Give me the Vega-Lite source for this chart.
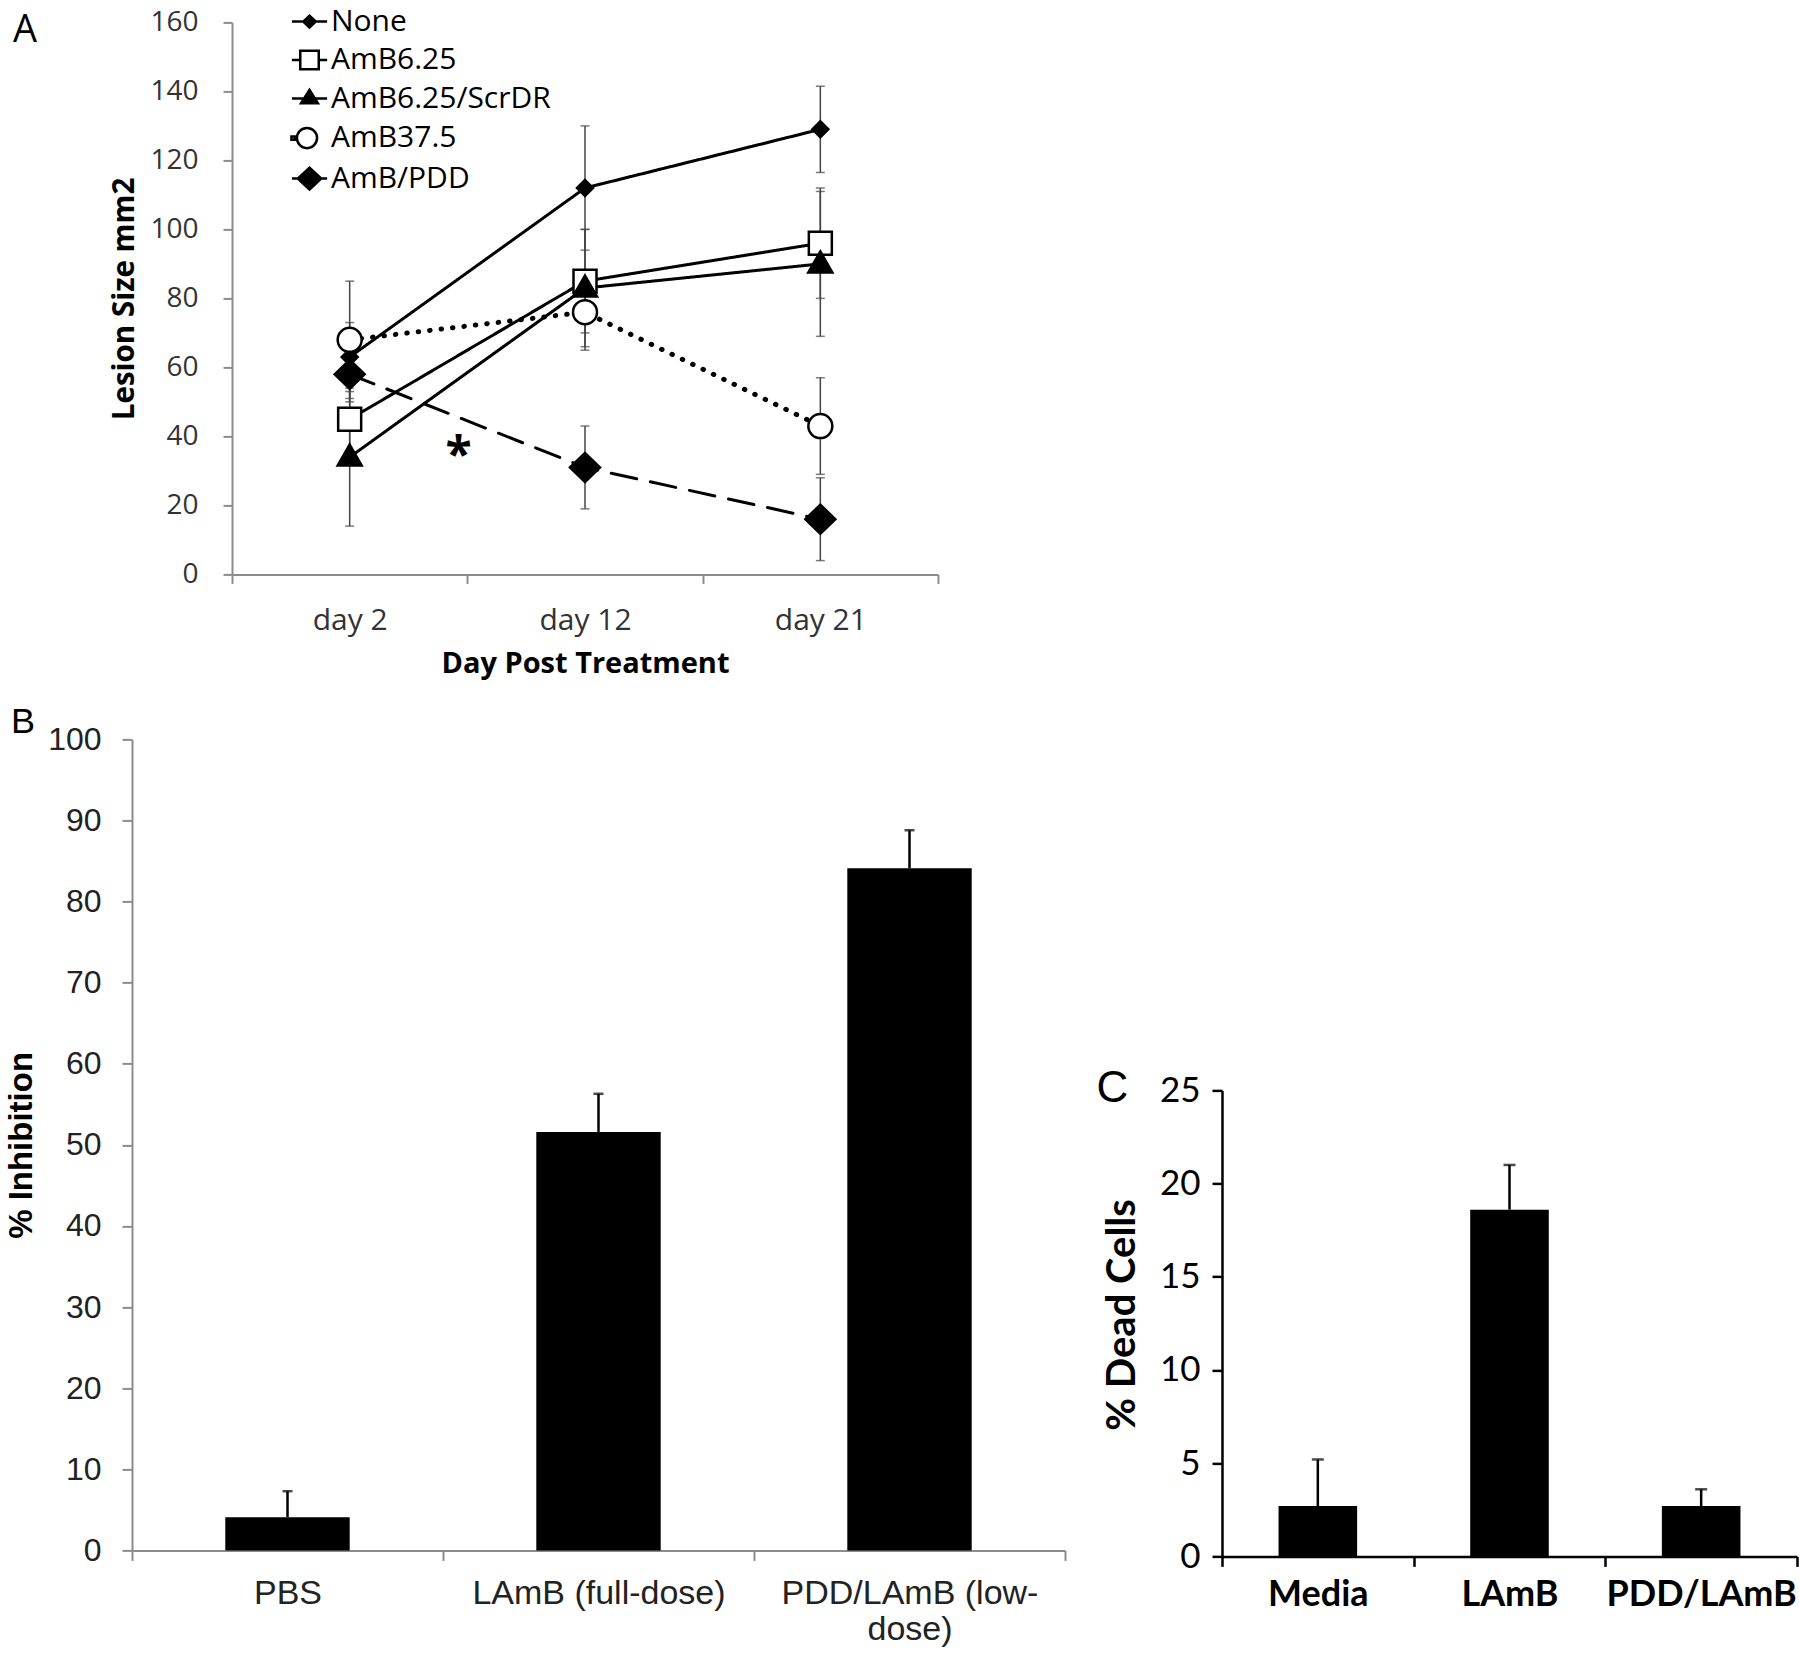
{
  "$schema": "https://vega.github.io/schema/vega-lite/v6.json",
  "background": "white",
  "padding": {"left": 5, "top": 6.4, "right": 4, "bottom": 4},
  "spacing": 30,
  "config": {"view": {"stroke": null}, "axis": {"grid": false}},
  "hconcat": [
    {
      "spacing": 25,
      "vconcat": [
        {
          "width": 806,
          "height": 552,
          "title": {"text": "A", "anchor": "start", "frame": "group", "orient": "top", "offset": -73, "baseline": "alphabetic", "dx": -119, "fontSize": 38, "font": "Open Sans", "fontWeight": "normal", "color": "black"},
          "data": {
            "values": [
              {"day": "day 2", "series": "None", "mean": 63, "err": 10},
              {"day": "day 12", "series": "None", "mean": 112, "err": 18},
              {"day": "day 21", "series": "None", "mean": 129, "err": 12.5},
              {"day": "day 2", "series": "AmB6.25", "mean": 45, "err": 10},
              {"day": "day 12", "series": "AmB6.25", "mean": 85, "err": 15},
              {"day": "day 21", "series": "AmB6.25", "mean": 96, "err": 16},
              {"day": "day 2", "series": "AmB6.25/ScrDR", "mean": 34, "err": 20},
              {"day": "day 12", "series": "AmB6.25/ScrDR", "mean": 83, "err": 17},
              {"day": "day 21", "series": "AmB6.25/ScrDR", "mean": 90, "err": 21},
              {"day": "day 2", "series": "AmB37.5", "mean": 68, "err": 17},
              {"day": "day 12", "series": "AmB37.5", "mean": 76, "err": 11},
              {"day": "day 21", "series": "AmB37.5", "mean": 43, "err": 14},
              {"day": "day 2", "series": "AmB/PDD", "mean": 58, "err": 8},
              {"day": "day 12", "series": "AmB/PDD", "mean": 31, "err": 12},
              {"day": "day 21", "series": "AmB/PDD", "mean": 16, "err": 12}
            ]
          },
          "encoding": {
            "x": {
              "field": "day", "type": "nominal", "sort": ["day 2", "day 12", "day 21"],
              "scale": {"type": "band", "paddingInner": 0, "paddingOuter": 0, "range": [100, 806]},
              "axis": {"title": "Day Post Treatment", "tickBand": "extent", "labelAngle": 0, "domainColor": "#8c8c8c", "domainWidth": 2, "tickColor": "#8c8c8c", "tickWidth": 2, "tickSize": 9, "labelFont": "Open Sans", "labelFontSize": 30, "labelColor": "#333333", "labelPadding": 22.5, "titleFont": "Open Sans", "titleFontSize": 29, "titleFontWeight": "bold", "titleColor": "black", "titlePadding": 14}
            }
          },
          "resolve": {"scale": {"shape": "independent", "fill": "independent", "stroke": "independent"}},
          "layer": [
            {
              "mark": {"type": "errorbar", "ticks": {"size": 9, "thickness": 1.5, "color": "#444444"}, "color": "#444444", "thickness": 1.5},
              "encoding": {
                "y": {"field": "mean", "type": "quantitative", "scale": {"domain": [0, 160], "nice": false},
                  "axis": {"title": "Lesion Size mm2", "format": "d", "values": [0, 20, 40, 60, 80, 100, 120, 140, 160], "offset": -100, "domainColor": "#8c8c8c", "domainWidth": 2, "tickColor": "#8c8c8c", "tickWidth": 2, "tickSize": 9, "labelFont": "Open Sans", "labelFontSize": 28, "labelColor": "#333333", "labelPadding": 25, "titleFont": "Open Sans", "titleFontSize": 29.5, "titleFontWeight": "bold", "titleColor": "black", "titlePadding": 10}},
                "yError": {"field": "err"}
              }
            },
            {
              "transform": [{"filter": "datum.series != 'AmB37.5'"}],
              "mark": {"type": "line", "color": "black", "strokeWidth": 3, "strokeCap": "round", "strokeJoin": "round"},
              "encoding": {
                "y": {"field": "mean", "type": "quantitative"},
                "strokeDash": {"field": "series", "type": "nominal", "scale": {"domain": ["None", "AmB6.25", "AmB6.25/ScrDR", "AmB37.5", "AmB/PDD"], "range": [[1, 0], [1, 0], [1, 0], [0.5, 11], [26, 14]]}, "legend": null}
              }
            },
            {
              "transform": [{"filter": "datum.series == 'AmB37.5'"}],
              "mark": {"type": "line", "color": "black", "strokeWidth": 5, "strokeCap": "round", "strokeJoin": "round"},
              "encoding": {
                "y": {"field": "mean", "type": "quantitative"},
                "strokeDash": {"field": "series", "type": "nominal", "legend": null}
              }
            },
            {
              "mark": {"type": "point", "size": 100, "stroke": "black", "strokeWidth": 2.5, "opacity": 1},
              "encoding": {
                "y": {"field": "mean", "type": "quantitative"},
                "shape": {"field": "series", "type": "nominal", "legend": null, "scale": {"domain": ["None", "AmB6.25", "AmB6.25/ScrDR", "AmB37.5", "AmB/PDD"], "range": ["M-1.6,0L0,-1.6L1.6,0L0,1.6Z", "M-2.3,-2.3L2.3,-2.3L2.3,2.3L-2.3,2.3Z", "M0,-2.5L2.4,1.7L-2.4,1.7Z", "M-2.4,0A2.4,2.4,0,1,0,2.4,0A2.4,2.4,0,1,0,-2.4,0Z", "M-3,0L0,-2.9L3,0L0,2.9Z"]}},
                "fill": {"field": "series", "type": "nominal", "legend": null, "scale": {"domain": ["None", "AmB6.25", "AmB6.25/ScrDR", "AmB37.5", "AmB/PDD"], "range": ["black", "white", "black", "white", "black"]}}
              }
            },
            {
              "mark": {"type": "point", "size": 0, "strokeWidth": 2.5},
              "encoding": {
                "y": {"field": "mean", "type": "quantitative"},
                "shape": {"field": "series", "type": "nominal",
                  "scale": {"domain": ["None", "AmB6.25", "AmB6.25/ScrDR", "AmB37.5", "AmB/PDD"], "range": ["M-2.1,0L2.1,0M-0.75,0L0,-0.7L0.75,0L0,0.7Z", "M-2.1,0L-1.1,0M1.1,0L2.1,0M-1.1,-1.1L1.1,-1.1L1.1,1.1L-1.1,1.1Z", "M-2.1,0L2.1,0M-1,0.55L0,-1.05L1,0.55Z", "M-2.15,-0.2L-1.75,-0.2L-1.75,0.2L-2.15,0.2ZM-1.5,0A1.2,1.2,0,1,0,0.9,0A1.2,1.2,0,1,0,-1.5,0Z", "M-2.1,0L2.1,0M-1.4,0L0,-1.3L1.4,0L0,1.3Z"]},
                  "legend": {"title": null, "orient": "none", "legendX": 162.5, "legendY": -15.8, "symbolSize": 282, "symbolStrokeWidth": 2.5, "symbolOpacity": 1, "labelFont": "Open Sans", "labelFontSize": 30, "labelColor": "black", "labelOffset": 6.5, "rowPadding": 8.5, "padding": 0, "labelLimit": 400}},
                "fill": {"field": "series", "type": "nominal",
                  "scale": {"domain": ["None", "AmB6.25", "AmB6.25/ScrDR", "AmB37.5", "AmB/PDD"], "range": ["black", "white", "black", "white", "black"]},
                  "legend": {"title": null, "orient": "none", "legendX": 162.5, "legendY": -15.8, "symbolSize": 282, "symbolStrokeWidth": 2.5, "symbolOpacity": 1, "labelFont": "Open Sans", "labelFontSize": 30, "labelColor": "black", "labelOffset": 6.5, "rowPadding": 8.5, "padding": 0, "labelLimit": 400}},
                "stroke": {"field": "series", "type": "nominal",
                  "scale": {"domain": ["None", "AmB6.25", "AmB6.25/ScrDR", "AmB37.5", "AmB/PDD"], "range": ["black", "black", "black", "black", "black"]},
                  "legend": {"title": null, "orient": "none", "legendX": 162.5, "legendY": -15.8, "symbolSize": 282, "symbolStrokeWidth": 2.5, "symbolOpacity": 1, "labelFont": "Open Sans", "labelFontSize": 30, "labelColor": "black", "labelOffset": 6.5, "rowPadding": 8.5, "padding": 0, "labelLimit": 400}}
              }
            },
            {
              "data": {"values": [{"day": "day 2", "yv": 30, "label": "*"}]},
              "mark": {"type": "text", "dx": 109, "font": "Open Sans", "fontSize": 48, "fontWeight": "bold", "baseline": "alphabetic", "align": "center", "color": "black"},
              "encoding": {"y": {"field": "yv", "type": "quantitative"}, "text": {"field": "label"}}
            }
          ]
        },
        {
          "width": 933,
          "height": 811,
          "title": {"text": "B", "anchor": "start", "frame": "group", "orient": "top", "offset": -46, "baseline": "alphabetic", "dx": -121, "fontSize": 36, "font": "Liberation Sans", "fontWeight": "normal", "color": "black"},
          "data": {
            "values": [
              {"group": "PBS", "value": 4.1, "hi": 7.3},
              {"group": "LAmB (full-dose)", "value": 51.6, "hi": 56.3},
              {"group": "PDD/LAmB (low-dose)", "value": 84.1, "hi": 88.8}
            ]
          },
          "encoding": {
            "x": {
              "field": "group", "type": "nominal", "sort": null,
              "scale": {"type": "band", "paddingInner": 0, "paddingOuter": 0},
              "axis": {"title": null, "tickBand": "extent", "labelAngle": 0, "labelExpr": "datum.label == 'PDD/LAmB (low-dose)' ? ['PDD/LAmB (low-', 'dose)'] : datum.label", "labelLineHeight": 36, "domainColor": "#8c8c8c", "domainWidth": 2, "tickColor": "#8c8c8c", "tickWidth": 2, "tickSize": 10, "labelFont": "Liberation Sans", "labelFontSize": 34, "labelColor": "#222222", "labelPadding": 16, "labelLimit": 400}
            }
          },
          "layer": [
            {
              "mark": {"type": "bar", "color": "black", "width": {"band": 0.4}},
              "encoding": {
                "y": {"field": "value", "type": "quantitative", "scale": {"domain": [0, 100], "nice": false},
                  "axis": {"title": "% Inhibition", "format": "d", "values": [0, 10, 20, 30, 40, 50, 60, 70, 80, 90, 100], "domainColor": "#8c8c8c", "domainWidth": 2, "tickColor": "#8c8c8c", "tickWidth": 2, "tickSize": 10, "labelFont": "Liberation Sans", "labelFontSize": 32, "labelColor": "#222222", "labelPadding": 21, "titleFont": "Liberation Sans", "titleFontSize": 33, "titleFontWeight": "bold", "titleColor": "black", "titlePadding": 9}}
              }
            },
            {
              "mark": {"type": "rule", "color": "black", "strokeWidth": 2.5},
              "encoding": {"y": {"field": "value", "type": "quantitative"}, "y2": {"field": "hi"}}
            },
            {
              "mark": {"type": "tick", "color": "black", "thickness": 2.5, "size": 10},
              "encoding": {"y": {"field": "hi", "type": "quantitative"}}
            }
          ]
        }
      ]
    },
    {
      "width": 575,
      "height": 1534,
      "title": {"text": "C", "anchor": "start", "frame": "group", "orient": "top", "offset": 0, "baseline": "alphabetic", "dx": -125.5, "dy": 1123.5, "fontSize": 44, "font": "Liberation Sans", "fontWeight": "normal", "color": "black"},
      "data": {
        "values": [
          {"group": "Media", "value": 2.7, "hi": 5.2},
          {"group": "LAmB", "value": 18.6, "hi": 21.0},
          {"group": "PDD/LAmB", "value": 2.7, "hi": 3.6}
        ]
      },
      "encoding": {
        "x": {
          "field": "group", "type": "nominal", "sort": null,
          "scale": {"type": "band", "paddingInner": 0, "paddingOuter": 0},
          "axis": {"title": null, "tickBand": "extent", "labelAngle": 0, "domainColor": "black", "domainWidth": 2.5, "tickColor": "black", "tickWidth": 2.5, "tickSize": 10, "labelFont": "Lato", "labelFontSize": 36, "labelFontWeight": "bold", "labelColor": "black", "labelPadding": 11, "labelLimit": 400}
        }
      },
      "layer": [
        {
          "mark": {"type": "bar", "color": "black", "width": {"band": 0.41}},
          "encoding": {
            "y": {"field": "value", "type": "quantitative", "scale": {"domain": [0, 25], "nice": false, "range": [1534, 1068]},
              "axis": {"title": "% Dead Cells", "titleY": 1292, "format": "d", "values": [0, 5, 10, 15, 20, 25], "domainColor": "black", "domainWidth": 2.5, "tickColor": "black", "tickWidth": 2.5, "tickSize": 10, "labelFont": "Lato", "labelFontSize": 35, "labelColor": "black", "labelPadding": 12, "titleFont": "Lato", "titleFontSize": 40, "titleFontWeight": "bold", "titleColor": "black", "titlePadding": 17}}
          }
        },
        {
          "mark": {"type": "rule", "color": "black", "strokeWidth": 2.5},
          "encoding": {"y": {"field": "value", "type": "quantitative"}, "y2": {"field": "hi"}}
        },
        {
          "mark": {"type": "tick", "color": "black", "thickness": 2.5, "size": 12},
          "encoding": {"y": {"field": "hi", "type": "quantitative"}}
        }
      ]
    }
  ]
}
